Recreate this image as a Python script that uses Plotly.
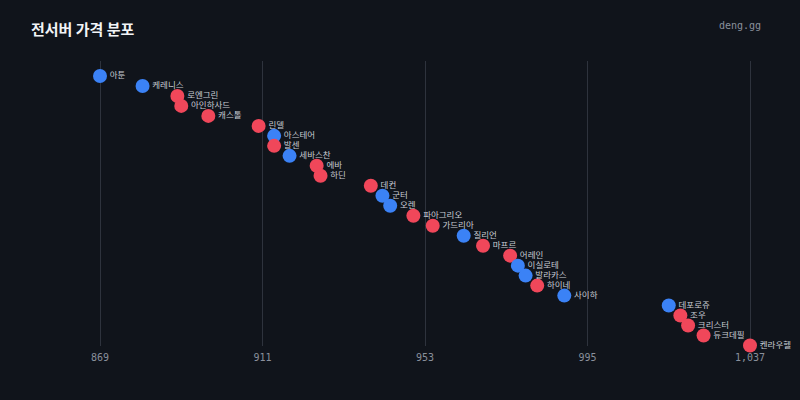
import plotly.graph_objects as go

servers = ["아툰", "케레니스", "로엔그린", "아인하사드", "캐스톨", "린델", "아스테어", "발센",
           "세바스찬", "에바", "하딘", "데컨", "군터", "오렌", "파아그리오", "가드리아",
           "질리언", "마프르", "어레인", "이실로테", "발라카스", "하이네", "사이하",
           "데포로쥬", "조우", "크리스터", "듀크데필", "켄라우헬"]
prices = [869, 880, 889, 890, 897, 910, 914, 914, 918, 925, 926, 939, 942, 944, 950, 955,
          963, 968, 975, 977, 979, 982, 989, 1016, 1019, 1021, 1025, 1037]
groups = ["B", "B", "R", "R", "R", "R", "B", "R", "B", "R", "R", "R", "B", "B", "R", "R",
          "B", "R", "R", "B", "B", "R", "B", "B", "R", "R", "R", "R"]
tick_vals = [869, 911, 953, 995, 1037]
tick_text = ["869", "911", "953", "995", "1,037"]

color_map = {"B": "#3b82f6", "R": "#f0475a"}
rows = list(range(len(servers)))

W, H = 800, 400
PAD = 6
L, R, T, B = 100 - PAD, 50 - PAD, 61, 54
pw, ph = W - L - R, H - T - B
upx = (1037 - 869) / 650.0  # data units per pixel

fig = go.Figure()
fig.add_trace(go.Scatter(
    x=prices, y=rows, mode="markers+text",
    text=servers, textposition="middle right",
    textfont=dict(family="Noto Sans CJK KR", size=8.5, color="#c8ccd4"),
    marker=dict(size=14, color=[color_map[g] for g in groups], line=dict(width=0)),
    cliponaxis=False, hoverinfo="skip", showlegend=False,
))

fig.update_layout(
    width=W, height=H,
    margin=dict(l=L, r=R, t=T, b=B),
    paper_bgcolor="#10141b", plot_bgcolor="rgba(0,0,0,0)",
    xaxis=dict(range=[869 - PAD * upx, 1037 + PAD * upx], tickvals=tick_vals, ticktext=tick_text,
               showgrid=True, gridcolor="#2e333d", gridwidth=1, zeroline=False,
               showline=False, ticks="", ticklabelstandoff=4,
               tickfont=dict(family="DejaVu Sans Mono", size=10, color="#8a909b")),
    yaxis=dict(range=[len(servers) - 1 + 0.05, -1.5], visible=False, showgrid=False, zeroline=False),
    annotations=[
        dict(text="<b>전서버 가격 분포</b>", xref="paper", yref="paper",
             x=(29 - L) / pw, y=(H - B - 28) / ph, xanchor="left", yanchor="middle",
             showarrow=False, font=dict(family="Noto Sans CJK KR", size=15, color="#f2f4f7")),
        dict(text="deng.gg", xref="paper", yref="paper",
             x=(763 - L) / pw, y=(H - B - 25) / ph, xanchor="right", yanchor="middle",
             showarrow=False, font=dict(family="DejaVu Sans Mono", size=10, color="#8a909b")),
    ],
)

fig.write_html("out.html")
